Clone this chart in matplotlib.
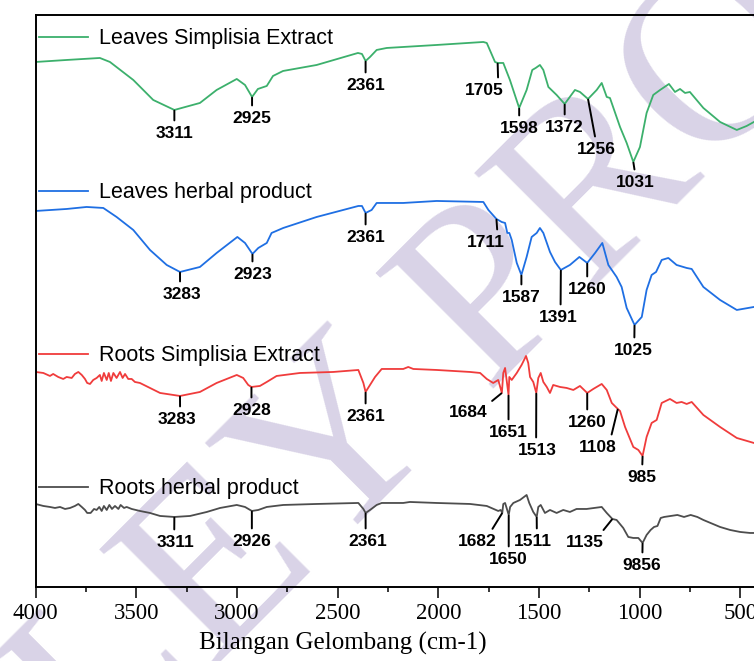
import matplotlib
matplotlib.use("Agg")
import matplotlib.pyplot as plt
from matplotlib.legend import Legend
from matplotlib.ticker import MultipleLocator

# FTIR spectra, offset vertically (arbitrary transmittance units)
wn_leaf_ext = [4000, 3846, 3681, 3631, 3515, 3416, 3311, 3184, 3101, 3001,
               2960, 2925, 2896, 2852, 2821, 2771, 2604, 2399, 2379, 2361,
               2339, 2306, 2256, 2008, 1776, 1759, 1718, 1705, 1677, 1644,
               1598, 1561, 1533, 1516, 1495, 1478, 1453, 1412, 1372, 1321,
               1296, 1256, 1213, 1188, 1163, 1147, 1097, 1064, 1031, 998,
               965, 932, 898, 854, 824, 799, 774, 750, 683, 600,
               517, 468, 432]
t_leaf_ext = [525, 527, 529, 525, 507, 487, 477, 484, 497, 508,
              502, 490, 498, 501, 511, 516, 522, 534, 533, 526,
              530, 537, 539, 542, 545, 544, 525, 524, 524, 507,
              479, 497, 517, 519, 522, 517, 500, 492, 483, 497,
              495, 488, 497, 504, 490, 489, 460, 444, 425, 440,
              474, 492, 497, 503, 495, 498, 494, 495, 479, 465,
              457, 461, 465]

wn_leaf_herb = [4000, 3846, 3747, 3664, 3598, 3515, 3432, 3349, 3283, 3184,
                3101, 2998, 2960, 2923, 2894, 2852, 2828, 2770, 2604, 2397,
                2379, 2361, 2331, 2306, 2174, 2008, 1776, 1751, 1711, 1685,
                1668, 1657, 1647, 1635, 1610, 1587, 1561, 1536, 1511, 1495,
                1478, 1445, 1420, 1391, 1346, 1299, 1260, 1221, 1185, 1155,
                1114, 1089, 1064, 1025, 989, 965, 940, 918, 890, 857,
                816, 766, 741, 683, 600, 517, 432]
t_leaf_herb = [376, 378, 380, 379, 370, 357, 337, 322, 315, 320,
               334, 350, 344, 333, 339, 344, 354, 359, 370, 381,
               381, 374, 377, 384, 384, 386, 385, 377, 368, 365,
               364, 354, 354, 347, 324, 312, 330, 350, 354, 359,
               354, 335, 325, 317, 322, 330, 324, 334, 344, 322,
               310, 300, 279, 262, 270, 297, 312, 315, 327, 329,
               322, 319, 318, 300, 287, 277, 280]

wn_root_ext = [4000, 3962, 3929, 3913, 3888, 3863, 3846, 3821, 3805, 3788,
               3771, 3755, 3744, 3730, 3714, 3697, 3681, 3672, 3661, 3647,
               3637, 3626, 3614, 3598, 3581, 3568, 3556, 3540, 3523, 3507,
               3482, 3432, 3382, 3283, 3184, 3101, 3001, 2969, 2944, 2928,
               2886, 2852, 2803, 2687, 2522, 2397, 2372, 2361, 2339, 2314,
               2281, 2174, 2149, 2124, 2008, 1925, 1842, 1792, 1759, 1727,
               1702, 1684, 1677, 1668, 1651, 1647, 1635, 1610, 1586, 1564,
               1553, 1544, 1528, 1513, 1503, 1491, 1478, 1461, 1445, 1429,
               1395, 1362, 1329, 1296, 1260, 1230, 1188, 1163, 1138, 1108,
               1097, 1072, 1031, 1006, 985, 965, 940, 915, 890, 849,
               816, 791, 766, 741, 683, 600, 517, 432]
t_root_ext = [215, 214, 211, 213, 210, 208, 210, 209, 213, 215,
              212, 208, 204, 203, 207, 209, 212, 206, 214, 207,
              214, 206, 214, 209, 215, 209, 213, 208, 208, 205,
              204, 199, 194, 191, 195, 204, 212, 209, 202, 200,
              201, 205, 211, 214, 215, 217, 204, 195, 202, 210,
              218, 218, 220, 218, 217, 216, 215, 214, 208, 204,
              207, 194, 214, 219, 192, 210, 207, 214, 222, 231,
              224, 210, 205, 194, 209, 214, 205, 200, 194, 202,
              200, 199, 197, 201, 194, 198, 203, 197, 184, 178,
              176, 160, 140, 137, 131, 150, 164, 167, 184, 188,
              184, 185, 183, 185, 172, 160, 149, 144]

wn_root_herb = [4000, 3962, 3929, 3904, 3879, 3854, 3829, 3805, 3788, 3771,
                3755, 3744, 3727, 3710, 3697, 3684, 3672, 3661, 3647, 3634,
                3621, 3606, 3589, 3578, 3561, 3548, 3523, 3482, 3432, 3382,
                3311, 3233, 3150, 3084, 3001, 2960, 2926, 2894, 2852, 2770,
                2604, 2397, 2372, 2361, 2339, 2306, 2281, 2174, 2141, 2008,
                1842, 1759, 1702, 1690, 1682, 1677, 1668, 1650, 1643, 1627,
                1594, 1561, 1548, 1528, 1511, 1503, 1491, 1470, 1445, 1412,
                1379, 1346, 1313, 1263, 1188, 1163, 1135, 1114, 1081, 1056,
                1031, 1006, 985, 965, 945, 928, 911, 895, 878, 845,
                812, 779, 746, 713, 683, 600, 550, 500, 451, 432]
t_root_herb = [83, 81, 80, 79, 80, 78, 79, 81, 83, 80,
               77, 74, 74, 78, 77, 80, 76, 81, 77, 82,
               78, 81, 78, 82, 79, 80, 78, 76, 74, 71,
               70, 71, 75, 79, 82, 80, 76, 77, 80, 82,
               83, 84, 78, 74, 77, 82, 84, 84, 85, 84,
               83, 81, 76, 77, 74, 83, 84, 72, 80, 84,
               87, 92, 84, 75, 70, 80, 82, 74, 77, 74,
               77, 75, 78, 78, 80, 74, 68, 67, 59, 50,
               49, 49, 44, 52, 57, 60, 61, 69, 70, 71,
               72, 70, 72, 70, 67, 60, 57, 55, 54, 54]

# labelled bands
peaks_leaf_ext = [3311, 2925, 2361, 1705, 1598, 1372, 1256, 1031]
peaks_leaf_herb = [3283, 2923, 2361, 1711, 1587, 1391, 1260, 1025]
peaks_root_ext = [3283, 2928, 2361, 1684, 1651, 1513, 1260, 1108, 985]
peaks_root_herb = [3311, 2926, 2361, 1682, 1650, 1511, 1135, 985]
text_root_herb = ["3311", "2926", "2361", "1682", "1650", "1511", "1135", "9856"]

names = ["Leaves Simplisia Extract", "Leaves herbal product",
         "Roots Simplisia Extract", "Roots herbal product"]
colors = ["#3cb06c", "#1f6fe3", "#f03c3c", "#4d4d4d"]

# label placement: (dx, dy) in pixels from the band, x anchor of leader line
place_leaf_ext = [(0, -16, .5), (0, -14, .5), (0, -17, .5), (-13, -20, .85),
                  (0, -13, .5), (0, -16, .5), (8, -43, .5), (2, -13, .5)]
place_leaf_herb = [(2, -15, .45), (0, -13, .5), (0, -17, .5), (-11, -16, .82),
                   (0, -15, .5), (-3, -40, .57), (0, -19, .5), (-1, -18, .52)]
place_root_ext = [(-3, -16, .58), (0, -16, .5), (0, -17, .5), (-34, -12, 1.0),
                  (0, -30, .5), (1, -50, .47), (0, -22, .5), (-20, -31, .83),
                  (-1, -14, .52)]
place_root_herb = [(1, -18, .47), (0, -23, .5), (2, -21, .45), (-25, -21, .81),
                   (0, -37, .5), (-4, -17, .61), (-28, -16, .9), (-1, -15, .52)]

legend_y = [548, 394, 231, 98]

fig = plt.figure(figsize=(7.54, 6.61), dpi=100)
ax = fig.add_axes([0.0473, 0.112, 0.9611, 0.8649])
ax.patch.set_alpha(0)

fig.text(0.565, 0.44, "WILEY PROOF", rotation=45, rotation_mode="anchor",
         fontsize=182, color="#d9d3e7", family="Liberation Serif",
         ha="center", va="center", zorder=-1)

series = [(wn_leaf_ext, t_leaf_ext, peaks_leaf_ext, [str(p) for p in peaks_leaf_ext], place_leaf_ext),
          (wn_leaf_herb, t_leaf_herb, peaks_leaf_herb, [str(p) for p in peaks_leaf_herb], place_leaf_herb),
          (wn_root_ext, t_root_ext, peaks_root_ext, [str(p) for p in peaks_root_ext], place_root_ext),
          (wn_root_herb, t_root_herb, peaks_root_herb, text_root_herb, place_root_herb)]

for i, (wn, t, peaks, texts, place) in enumerate(series):
    line, = ax.plot(wn, t, color=colors[i], lw=1.3)
    for p, txt, (dx, dy, rx) in zip(peaks, texts, place):
        y = t[wn.index(p)]
        ax.annotate(txt, xy=(p, y), xytext=(dx, dy), textcoords="offset pixels",
                    ha="center", va="top", fontsize=12.5, fontweight="bold",
                    family="Liberation Sans",
                    arrowprops=dict(arrowstyle="-", lw=1.4, color="black",
                                    shrinkA=2, shrinkB=0.5, relpos=(rx, 1)))
    # one single-entry legend above each trace
    leg = Legend(ax, [line], [names[i]], loc="center left",
                 bbox_to_anchor=(0.004, legend_y[i]),
                 bbox_transform=ax.get_yaxis_transform(),
                 frameon=False, borderpad=0, borderaxespad=0,
                 handlelength=2.3, handletextpad=0.5,
                 prop={"family": "Liberation Sans", "size": 15.5})
    ax.add_artist(leg)

ax.set_xlim(4000, 400)
ax.set_ylim(0, 571.7)
ax.set_yticks([])
ax.xaxis.set_major_locator(MultipleLocator(500))
ax.xaxis.set_minor_locator(MultipleLocator(250))
ax.tick_params(axis="x", which="major", direction="out", length=7.9, width=1.1, pad=4)
ax.tick_params(axis="x", which="minor", direction="out", length=3.6, width=1.1)
for lab in ax.get_xticklabels():
    lab.set_family("Liberation Serif")
    lab.set_fontsize(16.5)
for s in ax.spines.values():
    s.set_linewidth(1.4)

ax.set_xlabel("Bilangan Gelombang (cm-1)", family="Liberation Serif", fontsize=18)
ax.xaxis.set_label_coords(0.424, -0.079)

fig.savefig("out.png", dpi=100)
